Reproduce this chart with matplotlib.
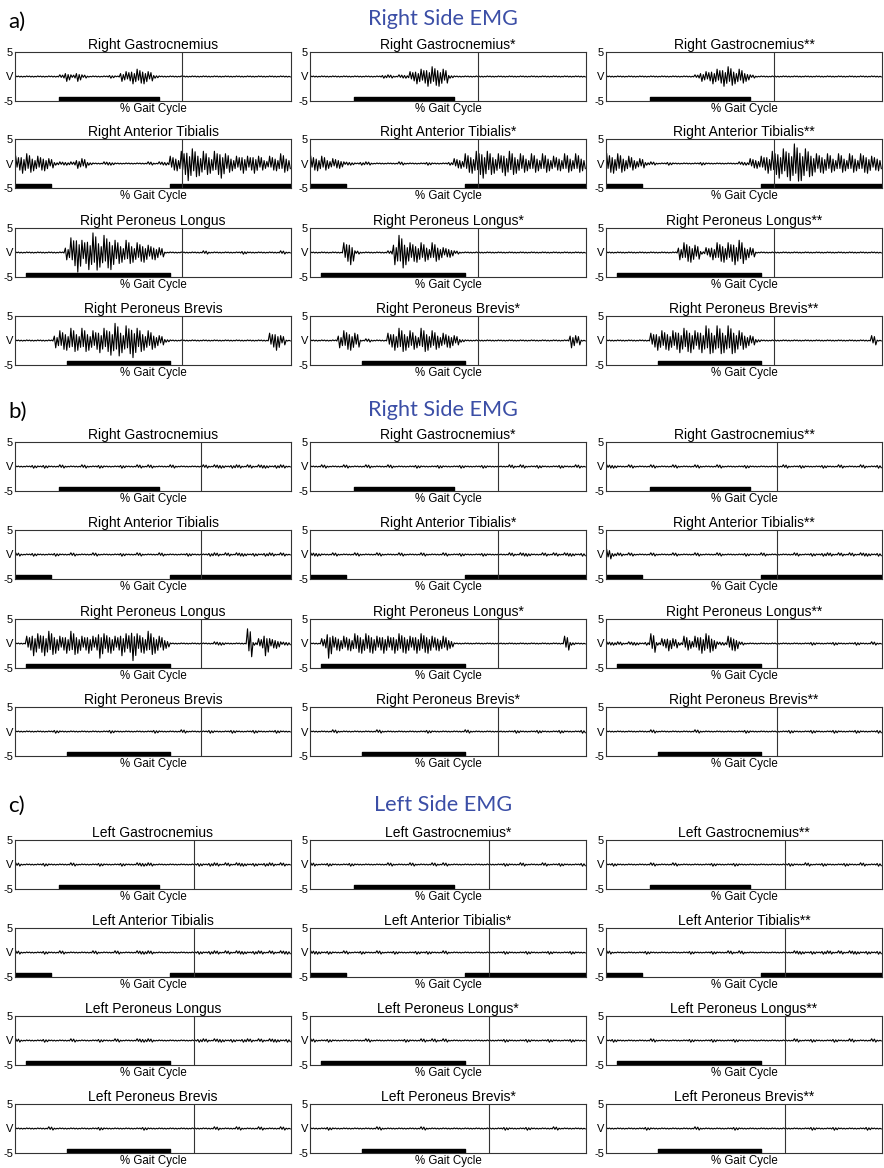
import matplotlib
matplotlib.use('Agg')
import matplotlib.pyplot as plt

plt.rcParams['font.family'] = ['Liberation Sans', 'DejaVu Sans']

W, H = 884, 1168

muscles = ['Gastrocnemius', 'Anterior Tibialis', 'Peroneus Longus', 'Peroneus Brevis']
marks = ['', '*', '**']
panel_letters = ['a)', 'b)', 'c)']
panel_titles = ['Right Side EMG', 'Right Side EMG', 'Left Side EMG']
panel_sides = ['Right', 'Right', 'Left']

# stance phase bars (start, end) in % gait cycle, one list per muscle
stance = [
    [(16, 52)],
    [(0, 13), (56, 100)],
    [(4, 56)],
    [(19, 56)],
]

# vertical line (% gait cycle) per panel and column
toe_off = [
    [60.5, 61, 61],
    [67.5, 68, 62],
    [65, 65, 65],
]

# EMG peak amplitude level, one digit per bin of the gait cycle
# order: muscle rows, then the three columns
emg_a = [
    "00000000" "12121" "000010" "2233321" "000000000000000000000000",
    "0000000000000" "11011" "23344431" "000000000000000000000000",
    "0000000000000000" "12233443321" "00000000000000000000000",
    "3443332" "1111" "22" "10011000000101" "1" "33" "576554564" "33434323343",
    "3332221" "1011000001000010001" "22" "44565445544" "34343334343",
    "4443322" "1100100000100000011" "22" "34566787654" "44343434433",
    "000000000" "368578677545444332" "00000001000000100000010",
    "000000" "45" "1000001" "57544434322" "100000000000000000000000",
    "0000000000000" "3443" "1" "234445532" "00000000000000000000000",
    "0000000" "344545445567567544321" "000000000000000000" "3420",
    "00000" "3443" "01000" "34544354433321" "0000000000000000000" "320",
    "00000000" "34444555456565654321" "00000000000000000000" "20",
]

emg_b = [
    "0001010010001001000100101000100000" "1011011010110110",
    "0010001000100010000100010001000100" "0010100100010010",
    "1100100010001000100010000100000" "0100100010010001001",
    "1001000100100010000100100010000100" "0110101101011010",
    "1100100010001000100010001001000100" "0010110010101101",
    "2110100010001000100010000100100" "0001001011010101101",
    "00" "35455434543436443547445432" "00000000" "11" "0000" "6125" "2211",
    "00" "263333444434344434443332" "00000000000000000000" "3100",
    "11101101" "412321323443113310" "000000000001000100010010",
    "0000000100000000010000000100001000" "0100010001000100",
    "0000100000001000000001000000100000" "0001000100010001",
    "0000000010000000100000000100000" "0010001000100010001",
]

emg_c = [
    "100001000010000100010" "01110" "0000000" "10110101101011010",
    "100100010000001000100" "01010" "0000000" "00100100010010001",
    "010000001000100000010" "00100" "0000000" "10010010001001001",
    "100001001000001000100" "01110" "0000000" "10110101101101011",
    "110100100100100100010" "10010" "0000000" "00100010001000100",
    "100000010000000100010" "01010" "0000000" "01101011010110101",
    "100001000010000100100" "01110" "0000000" "11011010110101101",
    "100100000010000001001" "01010" "0000000" "00100010001000100",
    "010000001000000100010" "00100" "0000000" "01001000100100010",
    "000000100000000100000" "00100" "0000000" "00010001000100010",
    "000100000000100000001" "00000" "0000000" "00100010000100000",
    "000000010000000010000" "00100" "0000000" "00001000100000100",
]
panels = [emg_a, emg_b, emg_c]

# peak volts for each level digit
level_volts = [0.12, 0.35, 1.0, 1.5, 2.0, 2.5, 3.0, 3.5, 4.0, 4.5]

# layout in pixels
col_left = [15, 310, 606]
ax_w, ax_h = 276, 49
row_top = [
    [52, 139, 228, 316],
    [442, 530, 619, 707],
    [840, 928, 1016, 1104],
]
letter_y = [22, 412, 806]
title_y = [19, 410, 805]


def trace(code):
    # zigzag through the peak amplitude of each bin
    step = 100 / len(code)
    shapes = [[1, -0.5, 0.8, -0.9], [0.6, -1, 0.4, -0.7]]
    xs, ys = [], []
    for i, c in enumerate(code):
        a = level_volts[int(c)]
        for k, f in enumerate(shapes[i % 2]):
            xs.append((i + (k + 0.5) / 4) * step)
            ys.append(a * f)
    return xs, ys


fig = plt.figure(figsize=(W / 100, H / 100), dpi=100)

for p in range(3):
    fig.text(8 / W, 1 - letter_y[p] / H, panel_letters[p], fontsize=16,
             va='center', ha='left', family=['Lato', 'DejaVu Sans'])
    fig.text(443 / W, 1 - title_y[p] / H, panel_titles[p], fontsize=15.6,
             va='center', ha='center', color='#3b4ea6',
             family=['Lato', 'DejaVu Sans'])
    for r in range(4):
        for c in range(3):
            t = row_top[p][r]
            ax = fig.add_axes([col_left[c] / W, 1 - (t + ax_h) / H,
                               ax_w / W, ax_h / H])
            xs, ys = trace(panels[p][r * 3 + c])
            ax.plot(xs, ys, color='black', lw=0.8)
            ax.axvline(toe_off[p][c], color='#333333', lw=0.8)
            for s, e in stance[r]:
                ax.broken_barh([(s, e - s)], (-5, 0.9), color='black')
            ax.set_xlim(0, 100)
            ax.set_ylim(-5, 5)
            ax.set_xticks([])
            ax.set_yticks([5, 0, -5])
            ax.set_yticklabels(['5', 'V', '-5'])
            ax.tick_params(axis='y', length=0, pad=1.5, labelsize=8)
            for sp in ax.spines.values():
                sp.set_color('#333333')
                sp.set_linewidth(0.8)
            ax.set_title(f'{panel_sides[p]} {muscles[r]}{marks[c]}',
                         fontsize=10, pad=2.5)
            ax.set_xlabel('% Gait Cycle', fontsize=8.3, labelpad=1.5)

fig.savefig('out.png', dpi=100)
